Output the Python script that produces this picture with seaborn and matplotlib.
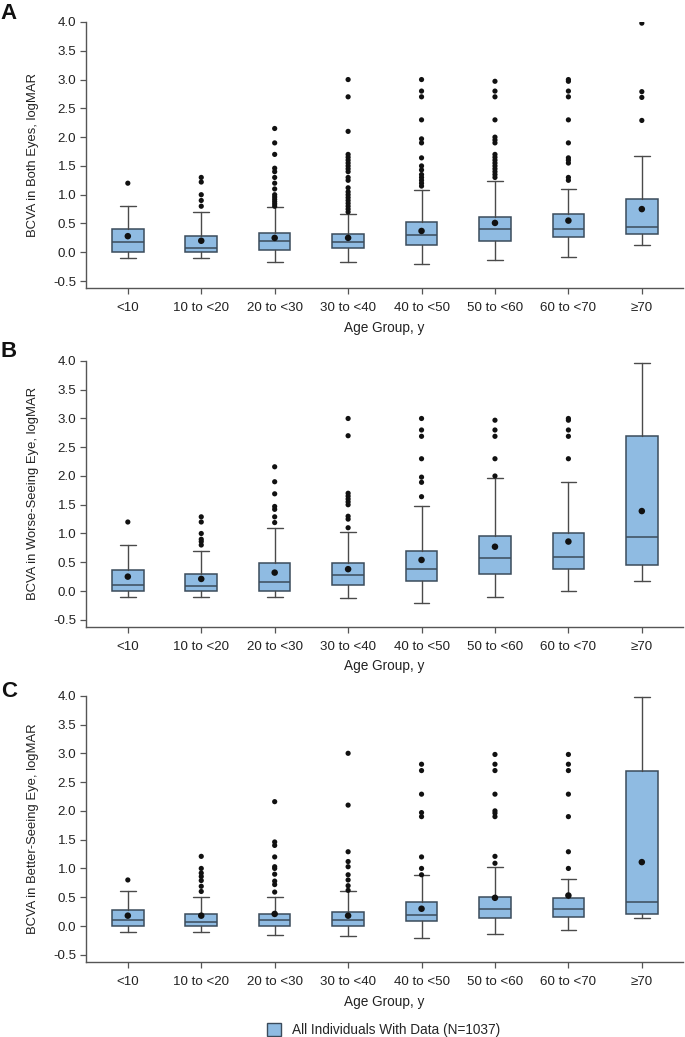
import matplotlib
matplotlib.use("Agg")
import matplotlib.pyplot as plt
import seaborn as sns
import pandas as pd
from matplotlib.patches import Patch

# Age groups
age_groups = ['<10', '10 to <20', '20 to <30', '30 to <40', '40 to <50',
              '50 to <60', '60 to <70', '≥70']

# Panel A: both eyes
lo_A = [-0.10, -0.10, -0.17, -0.17, -0.21, -0.14, -0.09, 0.13]
q1_A = [0.00, 0.00, 0.04, 0.07, 0.12, 0.20, 0.27, 0.31]
med_A = [0.17, 0.08, 0.20, 0.17, 0.30, 0.40, 0.40, 0.44]
q3_A = [0.40, 0.29, 0.33, 0.32, 0.52, 0.61, 0.66, 0.92]
hi_A = [0.80, 0.70, 0.78, 0.67, 1.08, 1.23, 1.10, 1.68]
mean_A = [0.28, 0.20, 0.25, 0.25, 0.37, 0.51, 0.55, 0.75]
out_A = [
    [1.2],
    [1.3, 1.22, 1.0, 0.9, 0.8],
    [2.15, 1.9, 1.7, 1.46, 1.4, 1.3, 1.2, 1.1, 1.0, 0.96, 0.92, 0.88, 0.84, 0.8],
    [3.0, 2.7, 2.1, 1.7, 1.65, 1.6, 1.55, 1.5, 1.45, 1.4, 1.3, 1.25, 1.12,
     1.05, 1.0, 0.95, 0.9, 0.85, 0.8, 0.75, 0.7],
    [3.0, 2.8, 2.7, 2.3, 1.97, 1.9, 1.64, 1.5, 1.43, 1.35, 1.3, 1.25, 1.2, 1.15],
    [2.97, 2.8, 2.7, 2.3, 2.0, 1.95, 1.9, 1.7, 1.65, 1.6, 1.55, 1.5, 1.45,
     1.4, 1.35, 1.3],
    [3.0, 2.97, 2.8, 2.7, 2.3, 1.9, 1.64, 1.6, 1.55, 1.3, 1.25],
    [3.98, 2.79, 2.69, 2.29],
]

# Panel B: worse-seeing eye
lo_B = [-0.11, -0.11, -0.10, -0.12, -0.20, -0.10, 0.00, 0.17]
q1_B = [0.00, 0.00, 0.00, 0.10, 0.17, 0.29, 0.38, 0.45]
med_B = [0.10, 0.09, 0.16, 0.28, 0.39, 0.57, 0.59, 0.94]
q3_B = [0.37, 0.29, 0.48, 0.48, 0.70, 0.96, 1.01, 2.69]
hi_B = [0.80, 0.70, 1.10, 1.02, 1.48, 1.97, 1.90, 3.97]
mean_B = [0.25, 0.21, 0.32, 0.38, 0.54, 0.77, 0.86, 1.39]
out_B = [
    [1.2],
    [1.29, 1.2, 1.0, 0.9, 0.86, 0.8],
    [2.16, 1.9, 1.69, 1.47, 1.42, 1.29, 1.19],
    [3.0, 2.7, 1.7, 1.65, 1.6, 1.55, 1.5, 1.3, 1.25, 1.1],
    [3.0, 2.8, 2.69, 2.3, 1.98, 1.89, 1.64],
    [2.97, 2.8, 2.69, 2.3, 2.0],
    [3.0, 2.97, 2.8, 2.69, 2.3],
    [],
]

# Panel C: better-seeing eye
lo_C = [-0.10, -0.10, -0.16, -0.17, -0.20, -0.13, -0.07, 0.14]
q1_C = [0.00, 0.00, 0.00, 0.00, 0.09, 0.14, 0.16, 0.21]
med_C = [0.10, 0.07, 0.11, 0.10, 0.19, 0.30, 0.30, 0.41]
q3_C = [0.28, 0.21, 0.21, 0.24, 0.41, 0.50, 0.49, 2.69]
hi_C = [0.60, 0.50, 0.50, 0.60, 0.88, 1.02, 0.82, 3.98]
mean_C = [0.18, 0.18, 0.21, 0.18, 0.30, 0.49, 0.53, 1.11]
out_C = [
    [0.8],
    [1.21, 1.0, 0.92, 0.86, 0.79, 0.69, 0.6],
    [2.16, 1.46, 1.4, 1.2, 1.03, 1.0, 0.9, 0.78, 0.72, 0.59],
    [3.0, 2.1, 1.29, 1.12, 1.03, 0.89, 0.8, 0.7, 0.62],
    [2.81, 2.7, 2.29, 1.97, 1.9, 1.2, 1.0, 0.89],
    [2.98, 2.81, 2.7, 2.29, 2.0, 1.96, 1.9, 1.21, 1.09],
    [2.98, 2.81, 2.7, 2.29, 1.9, 1.29, 1.0],
    [],
]

panels = [
    ('A', 'BCVA in Both Eyes, logMAR', lo_A, q1_A, med_A, q3_A, hi_A, mean_A, out_A),
    ('B', 'BCVA in Worse-Seeing Eye, logMAR', lo_B, q1_B, med_B, q3_B, hi_B, mean_B, out_B),
    ('C', 'BCVA in Better-Seeing Eye, logMAR', lo_C, q1_C, med_C, q3_C, hi_C, mean_C, out_C),
]

sns.set_theme(style="ticks")
plt.rcParams['font.family'] = ['Liberation Sans', 'DejaVu Sans']

box_color = '#8fbbe2'
edge_color = '#3b4b5b'
line_color = '#4a4a4a'
text_color = '#222222'

fig = plt.figure(figsize=(6.85, 10.37), dpi=100)
axes_rects = [
    [0.1255, 0.7223, 0.8715, 0.2565],
    [0.1255, 0.3957, 0.8715, 0.2562],
    [0.1255, 0.0726, 0.8715, 0.2565],
]
letter_y = [0.997, 0.671, 0.343]

for rect, ly, (letter, ylabel, lo, q1, med, q3, hi, mean, out) in zip(axes_rects, letter_y, panels):
    ax = fig.add_axes(rect)
    stats = []
    for i, g in enumerate(age_groups):
        stats.append(dict(label=g, whislo=lo[i], q1=q1[i], med=med[i],
                          q3=q3[i], whishi=hi[i], fliers=[]))
    ax.bxp(stats, positions=range(len(age_groups)), widths=0.43,
           patch_artist=True, showfliers=False,
           boxprops=dict(facecolor=box_color, edgecolor=edge_color, linewidth=1.1),
           medianprops=dict(color=edge_color, linewidth=1.1),
           whiskerprops=dict(color=line_color, linewidth=1.0),
           capprops=dict(color=line_color, linewidth=1.0))

    # outliers
    out_df = pd.DataFrame([(i, v) for i, vals in enumerate(out) for v in vals],
                          columns=['pos', 'value'])
    if len(out_df):
        sns.scatterplot(data=out_df, x='pos', y='value', ax=ax, color='#111111',
                        s=14, edgecolor='none', zorder=4, legend=False)
    # means
    mean_df = pd.DataFrame({'pos': range(len(age_groups)), 'value': mean})
    sns.scatterplot(data=mean_df, x='pos', y='value', ax=ax, color='#111111',
                    s=22, edgecolor='none', zorder=5, legend=False)

    ax.set_xlim(-0.57, 7.56)
    ax.set_ylim(-0.62, 4.0)
    ax.set_yticks([-0.5, 0.0, 0.5, 1.0, 1.5, 2.0, 2.5, 3.0, 3.5, 4.0])
    ax.set_yticklabels(['-0.5', '0.0', '0.5', '1.0', '1.5', '2.0', '2.5',
                        '3.0', '3.5', '4.0'])
    ax.set_xticks(range(len(age_groups)))
    ax.set_xticklabels(age_groups)
    ax.tick_params(axis='both', labelsize=9.6, colors='#555555', labelcolor=text_color,
                   length=4, width=0.9, pad=3)
    ax.tick_params(axis='x', pad=6)
    ax.set_xlabel('Age Group, y', fontsize=9.8, color=text_color, labelpad=5)
    ax.set_ylabel(ylabel, fontsize=9.4, color=text_color, labelpad=10)
    sns.despine(ax=ax)
    for side in ['left', 'bottom']:
        ax.spines[side].set_color('#555555')
        ax.spines[side].set_linewidth(1.0)
    fig.text(0.001, ly, letter, fontsize=16, fontweight='bold', color='#111111',
             ha='left', va='top')

handle = Patch(facecolor=box_color, edgecolor=edge_color, linewidth=1.0,
               label='All Individuals With Data (N=1037)')
fig.legend(handles=[handle], loc='lower center', bbox_to_anchor=(0.56, -0.012),
           frameon=False, fontsize=9.8, handlelength=1.0, handleheight=1.0)

fig.savefig('out.png', dpi=100)
